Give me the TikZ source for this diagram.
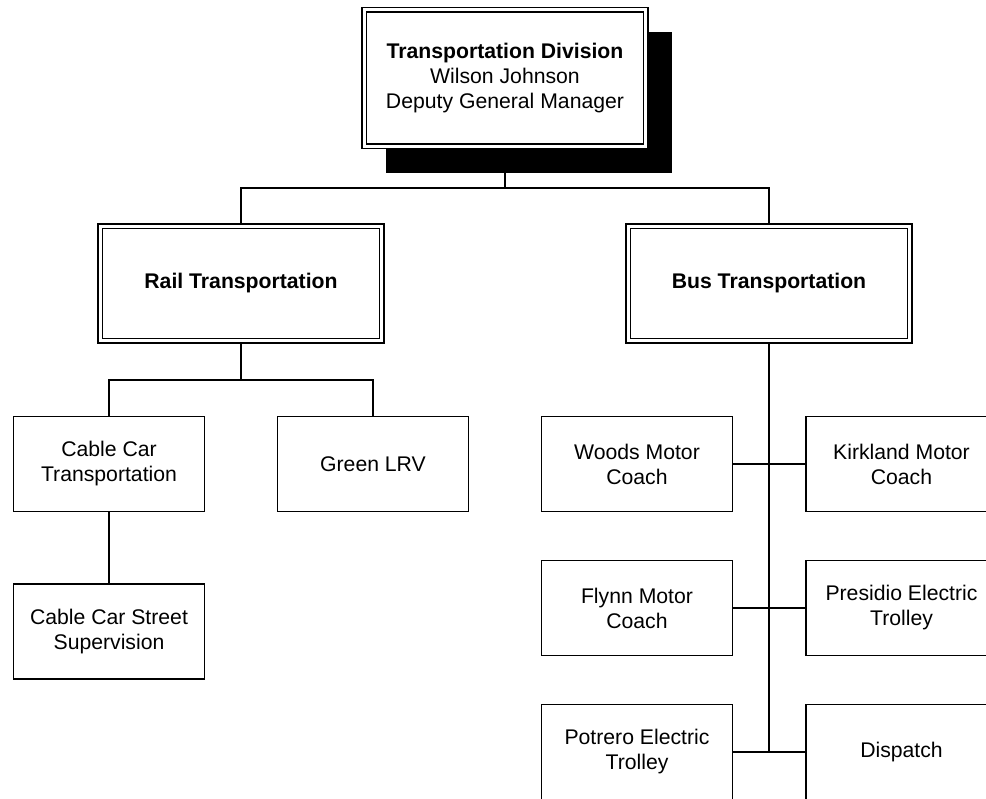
\documentclass[tikz,border=0pt]{standalone}
\usepackage{fontspec}
\setmainfont{Liberation Sans}
\usetikzlibrary{backgrounds,shadows}

\begin{document}
\begin{tikzpicture}[x=1pt,y=-1pt,
  every node/.style={outer sep=0pt, inner sep=2pt, align=center,
    font=\fontsize{21.2}{25}\selectfont},
  unitbox/.style={draw, line width=1.8pt, fill=white,
    minimum width=191pt, minimum height=95pt},
  headbox/.style={draw, line width=1.9pt, fill=white,
    minimum width=286pt, minimum height=119pt},
  innerline/.style={line width=1.3pt},
  link/.style={line width=1.6pt}]

  \clip (0,0) rectangle (986,799);

  % division head with its drop shadow
  \node[headbox, minimum height=141pt,
        drop shadow={shadow xshift=24pt, shadow yshift=-25pt,
                     fill=black, opacity=1}]
    (top) at (505,78)
    {\textbf{Transportation Division}\\Wilson Johnson\\Deputy General Manager};

  % section heads
  \node[headbox] (rail) at (241,283.5) {\textbf{Rail Transportation}};
  \node[headbox] (bus)  at (769,283.5) {\textbf{Bus Transportation}};

  % inner lines of the double borders
  \foreach \n in {top,rail,bus}
    \draw[innerline] ([shift={(4.5,4.5)}]\n.north west)
      rectangle ([shift={(-4.5,-4.5)}]\n.south east);

  % rail units
  \node[unitbox] (cct)  at (109,464)   {Cable Car\\Transportation};
  \node[unitbox] (glrv) at (373,464)   {Green LRV};
  \node[unitbox] (ccss) at (109,631.5) {Cable Car Street\\Supervision};

  % bus units
  \node[unitbox] (woods) at (637,464)   {Woods Motor\\Coach};
  \node[unitbox] (kirk)  at (901.5,464) {Kirkland Motor\\Coach};
  \node[unitbox] (flynn) at (637,608)   {Flynn Motor\\Coach};
  \node[unitbox] (pres)  at (901.5,608) {Presidio Electric\\Trolley};
  \node[unitbox] (potr)  at (637,752)   {Potrero Electric\\Trolley};
  \node[unitbox] (disp)  at (901.5,752) {Dispatch};

  % junction points
  \coordinate (hub)  at (505,188);
  \coordinate (rj)   at (241,380);
  \coordinate (bend) at (769,752);

  \begin{scope}[on background layer]
    \fill[white] (0,0) rectangle (986,799);
    \draw[link] (top.south) -- (hub);
    \draw[link] (rail.north) |- (hub) -| (bus.north);
    \draw[link] (rail.south) -- (rj);
    \draw[link] (cct.north) |- (rj) -| (glrv.north);
    \draw[link] (cct.south) -- (ccss.north);
    \draw[link] (bus.south) -- (bend);
    \draw[link] (woods.east) -- (kirk.west);
    \draw[link] (flynn.east) -- (pres.west);
    \draw[link] (potr.east) -- (disp.west);
  \end{scope}
\end{tikzpicture}
\end{document}
